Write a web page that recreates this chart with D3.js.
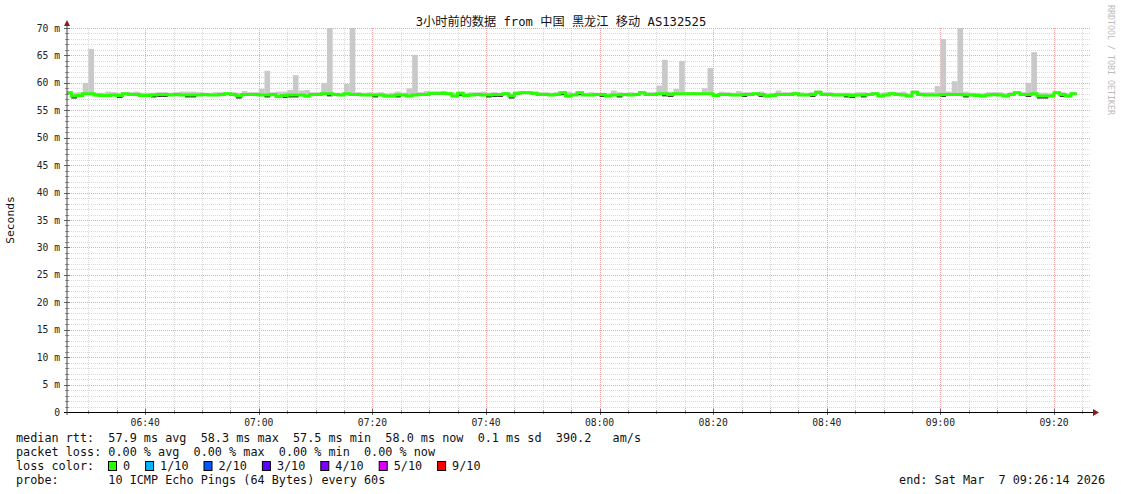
<!DOCTYPE html>
<html><head><meta charset="utf-8">
<script src="https://cdn.jsdelivr.net/npm/d3@7"></script>
<style>
body{margin:0;background:#fff;}
text{font-family:"DejaVu Sans Mono","Noto Sans CJK SC",monospace;}
</style>
</head><body>
<svg id="chart" width="1121" height="494"></svg>
<script>
// ---------------- data ----------------
const chartTitle = "3小时前的数据 from 中国 黑龙江 移动 AS132525";
const yAxisTitle = "Seconds";
const watermark = "RRDTOOL / TOBI OETIKER";
const startTime = "2026-03-07T06:26:14";
const endTime = "2026-03-07T09:26:14";
const firstStep = "2026-03-07T06:26:00"; // one value per minute from here
const yTickValues = [0,5,10,15,20,25,30,35,40,45,50,55,60,65,70];
const yTickLabels = ["0","5 m","10 m","15 m","20 m","25 m","30 m","35 m","40 m","45 m","50 m","55 m","60 m","65 m","70 m"];

// median rtt (ms) per minute
const medianRtt = [
58.2,57.6,57.7,58.0,58.0,57.8,57.7,57.7,57.8,57.7,
58.0,57.9,57.9,57.7,57.7,57.8,57.9,57.9,57.8,57.9,
57.8,57.8,57.8,57.8,57.9,57.8,57.8,57.9,58.0,57.9,
57.6,57.9,57.9,57.9,57.8,57.8,57.9,57.5,57.7,57.8,
57.8,57.8,57.6,57.9,57.9,58.0,58.0,57.9,57.8,58.0,
57.9,57.9,57.8,57.8,57.8,57.8,57.6,57.6,57.8,57.8,
57.6,57.8,57.9,57.9,58.1,58.1,58.1,58.0,57.6,58.1,
57.7,57.8,57.9,57.8,57.8,57.9,57.9,58.0,57.6,58.1,
58.2,58.2,58.1,57.9,57.9,57.8,57.9,58.2,57.6,57.8,
58.2,57.8,57.8,57.9,57.9,57.6,57.8,57.8,57.9,57.8,
57.9,58.2,57.9,57.9,58.0,58.0,57.9,58.0,58.0,58.0,
58.0,58.0,58.0,58.0,57.7,57.9,57.9,57.8,57.8,57.9,
57.9,58.0,57.9,57.6,57.7,57.9,57.9,57.9,58.0,57.8,
57.8,57.9,58.3,57.9,57.9,57.8,57.8,57.8,57.7,57.8,
57.8,57.9,58.0,57.6,57.8,58.0,57.9,57.8,57.6,58.3,
57.9,57.8,57.8,57.8,57.9,57.9,57.9,57.9,57.8,57.8,
57.7,57.6,57.8,57.9,57.8,57.6,57.9,58.2,57.9,57.9,
58.0,57.6,57.6,57.6,58.2,57.9,57.6,58.0
];
// lowest ping (ms) per minute
const smokeLow = [
58.0,57.15,57.5,57.8,57.8,57.6,57.5,57.5,57.6,57.25,
57.8,57.7,57.7,57.5,57.5,57.35,57.45,57.45,57.6,57.7,
57.6,57.35,57.35,57.6,57.7,57.6,57.6,57.7,57.8,57.7,
57.15,57.7,57.7,57.7,57.6,57.35,57.7,57.3,57.25,57.35,
57.35,57.6,57.4,57.7,57.7,57.8,57.55,57.7,57.6,57.8,
57.7,57.7,57.6,57.6,57.35,57.6,57.4,57.4,57.35,57.6,
57.4,57.6,57.7,57.7,57.9,57.9,57.9,57.8,57.4,57.65,
57.5,57.6,57.7,57.6,57.35,57.45,57.45,57.8,57.15,57.9,
58.0,58.0,57.9,57.7,57.7,57.6,57.7,57.75,57.4,57.6,
57.75,57.6,57.6,57.7,57.45,57.4,57.6,57.35,57.7,57.6,
57.7,58.0,57.7,57.7,57.8,57.55,57.45,57.8,57.8,57.8,
57.8,57.8,57.8,57.8,57.5,57.7,57.7,57.6,57.6,57.45,
57.7,57.8,57.45,57.4,57.5,57.7,57.7,57.7,57.8,57.6,
57.6,57.45,58.1,57.7,57.7,57.6,57.6,57.35,57.25,57.6,
57.35,57.7,57.8,57.4,57.6,57.8,57.7,57.6,57.4,58.1,
57.7,57.6,57.6,57.6,57.45,57.7,57.7,57.7,57.35,57.6,
57.5,57.4,57.6,57.7,57.6,57.4,57.7,58.0,57.7,57.45,
57.8,57.15,57.15,57.4,58.0,57.45,57.4,57.8
];
// highest ping (ms) per minute
const smokeHigh = [
58.4,58.2,58.3,60.0,66.2,58.2,58.2,58.4,58.3,58.2,
58.3,58.3,58.4,58.2,58.2,58.2,58.3,58.3,58.2,58.3,
58.4,58.4,58.4,58.3,58.2,58.2,58.3,58.3,58.3,58.3,
58.2,58.5,58.3,58.3,58.9,62.2,58.3,58.4,58.4,58.7,
61.4,58.6,58.7,58.3,58.3,60.0,70.0,58.2,58.2,59.8,
70.0,58.3,58.2,58.3,58.2,58.3,58.1,58.2,58.4,58.2,
59.0,65.1,58.3,58.5,58.4,58.4,58.5,58.3,58.2,58.4,
58.2,58.3,58.3,58.4,58.2,58.3,58.2,58.3,58.1,58.4,
58.5,58.5,58.4,58.3,58.3,58.2,58.3,58.5,58.4,58.2,
58.5,58.2,58.3,58.2,58.2,58.1,58.6,58.3,58.2,58.3,
58.2,58.5,58.3,58.3,59.5,64.2,58.4,58.9,64.0,58.3,
58.3,58.3,59.0,62.7,58.1,58.4,58.3,58.2,58.5,58.3,
58.3,58.3,58.4,58.1,58.2,58.6,58.3,58.3,58.4,58.3,
58.2,58.3,58.6,58.3,58.3,58.2,58.2,58.2,58.2,58.3,
58.3,58.2,58.3,58.2,58.3,58.4,58.3,58.4,58.1,58.6,
58.3,58.3,58.3,59.4,68.0,58.4,60.3,70.0,58.4,58.2,
58.2,58.1,58.3,58.3,58.3,58.1,58.3,58.5,58.3,60.0,
65.6,58.2,58.2,58.1,58.5,58.3,58.1,58.3
];

const medianStatLine = "median rtt:  57.9 ms avg  58.3 ms max  57.5 ms min  58.0 ms now  0.1 ms sd  390.2   am/s";
const lossStatLine = "packet loss: 0.00 % avg  0.00 % max  0.00 % min  0.00 % now";
const lossColorTitle = "loss color:";
const lossLabels = ["0","1/10","2/10","3/10","4/10","5/10","9/10"];
const lossColors = ["#26ff00","#00b8ff","#0059ff","#5e00ff","#7e00ff","#dd00ff","#ff0000"];
const probeLine = "probe:       10 ICMP Echo Pings (64 Bytes) every 60s";
const endLine = "end: Sat Mar  7 09:26:14 2026";

// ---------------- drawing ----------------
const svg = d3.select("#chart");
const L = 67, R = 1089.4, T = 28, B = 412;
const t0 = new Date(startTime), t1 = new Date(endTime);
const x = d3.scaleTime().domain([t0, t1]).range([L, R]);
const y = d3.scaleLinear().domain([0, 70]).range([B, T]);

svg.append("rect").attr("width",1121).attr("height",494).attr("fill","#fff");

// grid
const g = svg.append("g");
const minorY = d3.range(1, 70).filter(v => v % 5 !== 0);
g.selectAll(".hmin").data(minorY).enter().append("line")
  .attr("x1", L).attr("x2", R + 1).attr("y1", d => Math.round(y(d)) + 0.5).attr("y2", d => Math.round(y(d)) + 0.5)
  .attr("stroke", "#d9d9d9").attr("stroke-dasharray", "1,1");
const minorX = d3.timeMinute.every(5).range(t0, t1).filter(d => d.getMinutes() % 20 !== 0);
g.selectAll(".vmin").data(minorX).enter().append("line")
  .attr("x1", d => Math.round(x(d)) + 0.5).attr("x2", d => Math.round(x(d)) + 0.5).attr("y1", T).attr("y2", B)
  .attr("stroke", "#d9d9d9").attr("stroke-dasharray", "1,1");
g.selectAll(".hmaj").data(yTickValues.filter(v => v > 0)).enter().append("line")
  .attr("x1", L).attr("x2", R + 1).attr("y1", d => Math.round(y(d)) + 0.5).attr("y2", d => Math.round(y(d)) + 0.5)
  .attr("stroke", "#f2a4a4").attr("stroke-dasharray", "1,1");
const majorX = d3.timeMinute.every(20).range(t0, t1);
g.selectAll(".vmaj").data(majorX).enter().append("line")
  .attr("x1", d => Math.round(x(d)) + 0.5).attr("x2", d => Math.round(x(d)) + 0.5).attr("y1", T).attr("y2", B)
  .attr("stroke", "#f2a4a4").attr("stroke-dasharray", "1,1");

// data steps
const s0 = new Date(firstStep);
const steps = medianRtt.map((m, i) => {
  const a = d3.timeMinute.offset(s0, i), b = d3.timeMinute.offset(s0, i + 1);
  return {a, b, m, lo: smokeLow[i], hi: smokeHigh[i]};
});
const sx0 = d => Math.max(L, x(d.a));
const sw = d => x(d.b) - sx0(d);
const dg = svg.append("g");
dg.selectAll(".smoke").data(steps).enter().append("rect")
  .attr("x", sx0).attr("width", sw)
  .attr("y", d => y(d.hi)).attr("height", d => y(d.lo) - y(d.hi))
  .attr("fill", "#c9c9c9");
dg.selectAll(".core").data(steps).enter().append("rect")
  .attr("x", sx0).attr("width", sw)
  .attr("y", d => y(d.m)).attr("height", d => Math.max(0, y(d.lo) - y(d.m)))
  .attr("fill", "#2a2a2a");
const linePts = steps.map(d => [sx0(d), y(d.m)]);
const last = steps[steps.length - 1];
linePts.push([x(last.b), y(last.m)]);
dg.append("path").attr("d", d3.line().curve(d3.curveStepAfter)(linePts))
  .attr("fill", "none").attr("stroke", lossColors[0]).attr("stroke-width", 3);

// axes
const ax = svg.append("g");
ax.selectAll(".ytm").data(minorY).enter().append("line")
  .attr("x1", L - 2).attr("x2", L + 2).attr("y1", d => Math.round(y(d)) + 0.5).attr("y2", d => Math.round(y(d)) + 0.5)
  .attr("stroke", "#999");
ax.selectAll(".ytM").data(yTickValues).enter().append("line")
  .attr("x1", L - 3).attr("x2", L + 3).attr("y1", d => Math.round(y(d)) + 0.5).attr("y2", d => Math.round(y(d)) + 0.5)
  .attr("stroke", "#666");
ax.selectAll(".xtm").data(minorX).enter().append("line")
  .attr("x1", d => Math.round(x(d)) + 0.5).attr("x2", d => Math.round(x(d)) + 0.5).attr("y1", B - 2).attr("y2", B + 2)
  .attr("stroke", "#999");
ax.selectAll(".xtM").data(majorX).enter().append("line")
  .attr("x1", d => Math.round(x(d)) + 0.5).attr("x2", d => Math.round(x(d)) + 0.5).attr("y1", B - 3).attr("y2", B + 3)
  .attr("stroke", "#666");
ax.append("line").attr("x1", L - 3).attr("x2", 1093).attr("y1", B + 0.5).attr("y2", B + 0.5).attr("stroke", "#000");
ax.append("line").attr("x1", L).attr("x2", L).attr("y1", B + 3).attr("y2", 23).attr("stroke", "#444");
ax.append("path").attr("d", `M${L - 3},${T - 2} L${L},${T - 8} L${L + 3},${T - 2} Z`).attr("fill", "#8b1a1a");
ax.append("path").attr("d", `M1093,${B - 3} L1099,${B + 0.5} L1093,${B + 4} Z`).attr("fill", "#8b1a1a");

ax.selectAll(".yl").data(yTickValues).enter().append("text")
  .attr("x", 60).attr("y", d => y(d) + 3.5).attr("text-anchor", "end")
  .attr("font-size", "9.7px").attr("fill", "#222").text((d, i) => yTickLabels[i]);
const fmt = d3.timeFormat("%H:%M");
ax.selectAll(".xl").data(majorX).enter().append("text")
  .attr("x", d => x(d)).attr("y", 425.5).attr("text-anchor", "middle")
  .attr("font-size", "9.7px").attr("fill", "#222").text(d => fmt(d));

// titles
svg.append("text").attr("x", 561).attr("y", 25.5).attr("text-anchor", "middle")
  .attr("font-size", "12.2px").attr("fill", "#111").text(chartTitle);
svg.append("text").attr("transform", "translate(14,220) rotate(-90)").attr("text-anchor", "middle")
  .attr("font-size", "11.3px").attr("fill", "#111").text(yAxisTitle);
svg.append("text").attr("transform", "translate(1108,5) rotate(90)").attr("text-anchor", "start")
  .attr("font-size", "8.3px").attr("fill", "#bbb").text(watermark);

// legend
const lg = svg.append("g").attr("font-size", "11.8px").attr("fill", "#111");
const addLine = (s, xx, yy, anchor) => lg.append("text").attr("x", xx).attr("y", yy)
  .attr("text-anchor", anchor || "start").style("white-space", "pre").text(s);
addLine(medianStatLine, 16, 442);
addLine(lossStatLine, 16, 456);
addLine(lossColorTitle, 16, 470);
addLine(probeLine, 16, 484);
addLine(endLine, 1105, 484, "end");
const cw = 7.1;
let bx = 108;
lossLabels.forEach((lab, i) => {
  lg.append("rect").attr("x", bx + 0.5).attr("y", 461.5).attr("width", 8).attr("height", 9)
    .attr("fill", lossColors[i]).attr("stroke", "#000");
  lg.append("text").attr("x", bx + 15).attr("y", 470).text(lab);
  bx = bx + 15 + lab.length * cw + 15;
});
</script>
</body></html>
